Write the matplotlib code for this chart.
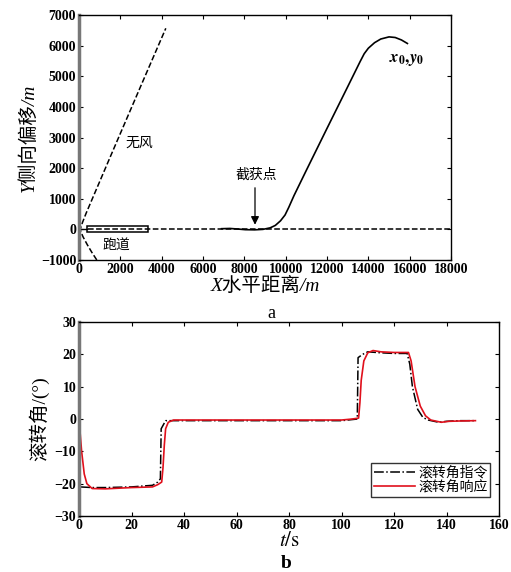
import numpy as np
import matplotlib
matplotlib.use("Agg")
import matplotlib.pyplot as plt

plt.rcParams['font.family'] = ['Liberation Serif', 'Noto Sans CJK SC']
plt.rcParams['mathtext.fontset'] = 'stix'

# --- panel a: ground track ---
nowind_x = [860, 620, 400, 200, 90, 60, 110, 200, 340, 1500, 3000, 4200]
nowind_y = [-1000, -750, -500, -250, -80, 0, 120, 280, 520, 2350, 4700, 6570]

runway_x = [400, 3350]
runway_y = [-80, 120]

center_x = [450, 18000]
center_y = [0, 0]

traj_x = [6900, 7300, 7700, 8050, 8500, 8900, 9250, 9500, 9750, 9970, 10150, 10400, 11000, 12000, 13000, 13600,
          13800, 14000, 14300, 14600, 15000, 15300, 15600, 15890]
traj_y = [22, 30, 10, -10, -15, 0, 50, 130, 280, 470, 720, 1100, 1930, 3300, 4660, 5480,
          5740, 5920, 6100, 6220, 6290, 6270, 6190, 6075]

# --- panel b: roll angle ---
t_cmd = [0.5, 5, 10, 20, 28, 30, 31, 31.3, 33, 40, 60, 80, 100, 106, 106.3, 108, 110, 115, 120, 125, 126, 127, 129, 131, 133, 137, 140, 145, 151]
phi_cmd = [-21, -21.2, -21.2, -21, -20.5, -19.5, -18.5, -3, -0.5, -0.5, -0.5, -0.5, -0.5, 0, 19, 20, 20.8, 20.5, 20.3, 20.3, 17, 10, 3, 0.5, -0.3, -1, -0.7, -0.5, -0.5]

t_rsp = [0, 1, 2, 3, 5, 10, 20, 28, 30, 31.5, 32, 32.5, 33, 34, 36, 60, 100, 104, 106.5, 107, 107.5, 108.5, 110, 112, 115, 120, 125.5, 126.5, 128, 130, 132, 134, 138, 141, 145, 151]
phi_rsp = [0, -10, -17, -20, -21.5, -21.6, -21.2, -21, -20.3, -19.5, -15, -8, -3, -1, -0.3, -0.3, -0.3, 0, 0.3, 5, 12, 18, 20.5, 21.2, 20.8, 20.6, 20.6, 18, 10, 4, 1, -0.3, -1, -0.7, -0.6, -0.5]

fig = plt.figure(figsize=(5.11, 5.72), dpi=100)


def style_axes(ax):
    ax.tick_params(direction='in', top=True, right=True, length=3, labelsize=10, pad=2)
    for lab in ax.get_xticklabels() + ax.get_yticklabels():
        lab.set_fontweight('bold')
    for s in ['top', 'right', 'bottom']:
        ax.spines[s].set_color('black')
        ax.spines[s].set_linewidth(1.0)
    ax.spines['left'].set_color('#777777')
    ax.spines['left'].set_linewidth(2.5)


ax1 = fig.add_axes([0.1546, 0.5455, 0.728, 0.428])
ax1.plot(nowind_x, nowind_y, 'k--', lw=1.1)
ax1.plot(center_x, center_y, 'k--', lw=1.1)
ax1.add_patch(plt.Rectangle((runway_x[0], runway_y[0]), runway_x[1] - runway_x[0],
                            runway_y[1] - runway_y[0], fill=False, ec='k', lw=1.1))
ax1.plot([0, runway_x[0]], [0, 0], 'k-', lw=1.0)
ax1.plot(traj_x, traj_y, 'k-', lw=1.2)
ax1.annotate('', xy=(8516, 60), xytext=(8516, 1450),
             arrowprops=dict(arrowstyle='-|>', color='k', lw=0.9, mutation_scale=12))
ax1.text(8600, 1780, '截获点', ha='center', va='center', fontsize=10)
ax1.text(2230, 2800, '无风', ha='left', va='center', fontsize=10)
ax1.text(1150, -520, '跑道', ha='left', va='center', fontsize=10)
ax1.text(15850, 5530, r'$\mathbfit{x}_{\mathbf{0}}\mathbf{,}\mathbfit{y}_{\mathbf{0}}$',
         ha='center', va='center', fontsize=12)
ax1.set_xlim(0, 18000)
ax1.set_ylim(-1000, 7000)
ax1.set_xticks(np.arange(0, 18001, 2000))
ax1.set_yticks(np.arange(-1000, 7001, 1000))
style_axes(ax1)
ax1.set_xlabel('X水平距离/m', fontsize=14, labelpad=1, style='italic')
ax1.set_ylabel('Y侧向偏移/m', fontsize=14, labelpad=2, style='italic')
fig.text(0.532, 1 - 313 / 572, 'a', ha='center', va='center', fontsize=13)

ax2 = fig.add_axes([0.1546, 0.0979, 0.822, 0.339])
ax2.plot(t_cmd, phi_cmd, color='k', ls='-.', lw=1.1, label='滚转角指令')
ax2.plot(t_rsp, phi_rsp, color='#e0101c', ls='-', lw=1.2, label='滚转角响应')
ax2.set_xlim(0, 160)
ax2.set_ylim(-30, 30)
ax2.set_xticks(np.arange(0, 161, 20))
ax2.set_yticks(np.arange(-30, 31, 10))
style_axes(ax2)
ax2.set_xlabel(r'$t/\mathrm{s}$', fontsize=15, labelpad=0)
ax2.set_ylabel('滚转角/(°)', fontsize=14, labelpad=4)
leg = ax2.legend(loc='lower right', bbox_to_anchor=(0.979, 0.098), fontsize=10,
                 frameon=True, fancybox=False, edgecolor='k', borderpad=0.2,
                 handlelength=3.0, handletextpad=0.2, labelspacing=0.1, borderaxespad=0)
leg.get_frame().set_linewidth(1.0)
fig.text(0.56, 1 - 563 / 572, 'b', ha='center', va='center', fontsize=14, fontweight='bold')

fig.savefig('out.png', dpi=100)
